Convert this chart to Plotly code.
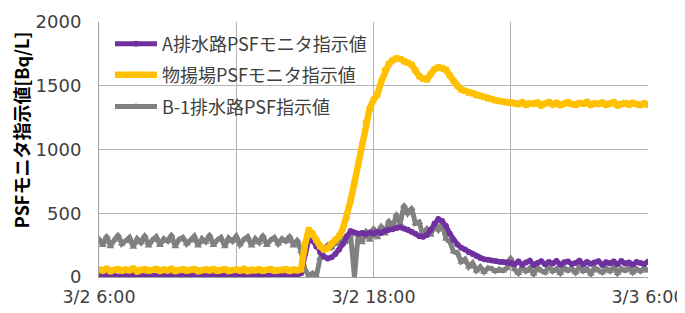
import pandas as pd
import plotly.graph_objects as go

# ---- data (10-minute samples from 3/2 6:00 to 3/3 6:00) ----
start_time = "2011-03-02 06:00"

series_a_name = "A排水路PSFモニタ指示値"
series_a = (
    [15, 5, 20, 8, 12, 2, 18, 10, 6, 22, 9, 14, 4, 17, 11, 7, 20, 12,
     3, 16, 10, 21, 6, 13, 9, 18, 4, 15, 11, 8, 19, 12, 5, 16, 10, 22,
     7, 14, 9, 18, 3, 15, 12, 6, 20, 10, 13, 8, 17, 11, 5, 16, 12]
    + [30, 180, 290, 285, 240, 195, 160, 145, 155, 180, 215, 260, 320,
       360, 350, 340, 345, 335, 350, 340, 355, 345, 360, 370, 375, 385,
       390, 380, 370, 355, 340, 320, 315, 330, 370, 420, 455, 440, 400,
       340, 290, 255, 230, 215, 195, 180, 165, 150, 140, 135, 130, 125,
       120, 118, 115, 112]
    + [100, 122, 96, 114, 128, 94, 110, 124, 100, 117, 106, 126, 96,
       115, 122, 102, 110, 128, 98, 118, 104, 114, 124, 95, 116, 108,
       122, 100, 125, 106, 114, 96, 118, 110, 102, 120]
)

series_b_name = "物揚場PSFモニタ指示値"
series_b = (
    [60, 50, 65, 45, 55, 62, 48, 58, 52, 66, 44, 57, 61, 49, 55, 63,
     47, 58, 52, 64, 46, 56, 60, 50, 57, 62, 45, 54, 59, 51, 63, 48,
     56, 61, 47, 55, 58, 50, 64, 46, 57, 52, 60, 49, 55, 62, 48, 56,
     53, 61, 47, 58, 52]
    + [60, 250, 370, 340, 290, 240, 215, 225, 260, 290, 320, 380, 470,
       600, 740, 880, 1040, 1210, 1320, 1390, 1430, 1530, 1620, 1670,
       1700, 1715, 1710, 1690, 1680, 1665, 1620, 1575, 1555, 1550, 1590,
       1630, 1645, 1640, 1625, 1580, 1535, 1500, 1470, 1460, 1445, 1440,
       1425, 1420, 1410, 1400, 1395, 1385, 1380, 1375, 1370, 1372]
    + [1365, 1355, 1370, 1350, 1362, 1358, 1368, 1345, 1360, 1372, 1352,
       1366, 1348, 1361, 1370, 1355, 1350, 1365, 1358, 1372, 1349, 1362,
       1356, 1368, 1350, 1360, 1371, 1346, 1358, 1364, 1352, 1366, 1355,
       1348, 1362, 1350]
)

series_c_name = "B-1排水路PSF指示値"
series_c = (
    [300, 250, 320, 240, 290, 330, 260, 280, 310, 235, 300, 270, 325,
     245, 290, 315, 250, 300, 280, 330, 240, 295, 310, 260, 285, 320,
     245, 300, 275, 330, 250, 290, 310, 240, 305, 280, 320, 255, 295,
     315, 245, 300, 270, 325, 250, 290, 310, 260, 300, 280, 320, 245, 290]
    + [200, 60, 10, 30, 5, 150, 220, 250, 230, 270, 260, 300, 280,
       330, 0, 340, 270, 360, 290, 380, 310, 400, 340, 440, 380, 490,
       420, 560, 500, 540, 420, 430, 320, 380, 330, 410, 370, 420, 300,
       280, 200, 190, 120, 140, 80, 110, 50, 80, 40, 70, 65, 45, 60, 50,
       70, 150]
    + [60, 30, 80, 45, 70, 25, 75, 50, 35, 85, 45, 65, 30, 75, 50, 70,
       35, 80, 45, 65, 25, 75, 50, 35, 70, 45, 80, 30, 65, 50, 75, 35,
       65, 45, 70, 50]
)

x_tick_values = ["2011-03-02 06:00", "2011-03-02 12:00", "2011-03-02 18:00",
                 "2011-03-03 00:00", "2011-03-03 06:00"]
x_tick_labels = ["3/2 6:00", "", "3/2 18:00", "", "3/3 6:00"]
y_title = "PSFモニタ指示値[Bq/L]"


def times(values):
    return pd.date_range(start_time, periods=len(values), freq="10min")


FONT = "Noto Sans CJK JP"
TICK_FONT = "DejaVu Sans"
fig = go.Figure()

# drawing order: gray, purple, yellow; each in its own legend box
fig.add_trace(go.Scatter(
    x=times(series_c), y=series_c, name=series_c_name, mode="lines+markers",
    line=dict(color="#808080", width=5),
    marker=dict(symbol="triangle-up", size=7, color="#808080"),
    legend="legend3"))
fig.add_trace(go.Scatter(
    x=times(series_a), y=series_a, name=series_a_name, mode="lines+markers",
    line=dict(color="#7030A0", width=5),
    marker=dict(symbol="circle", size=6, color="#7030A0"),
    legend="legend"))
fig.add_trace(go.Scatter(
    x=times(series_b), y=series_b, name=series_b_name, mode="lines+markers",
    line=dict(color="#FFC000", width=6.5),
    marker=dict(symbol="square", size=6, color="#FFC000"),
    legend="legend2"))

legend_common = dict(
    x=0.02, xanchor="left", yanchor="middle",
    bgcolor="rgba(0,0,0,0)", font=dict(family=FONT, size=18, color="#404040"),
    itemwidth=42,
)

# page is drawn with an 8px body margin, so the figure is 8px smaller
fig.update_layout(
    width=677, height=305,
    margin=dict(l=91, r=37, t=14, b=36),
    paper_bgcolor="white", plot_bgcolor="white",
    font=dict(family=FONT, color="#404040", size=18),
    showlegend=True,
    legend=dict(y=0.914, **legend_common),
    legend2=dict(y=0.792, **legend_common),
    legend3=dict(y=0.667, **legend_common),
    annotations=[dict(
        text="<b>" + y_title + "</b>", textangle=-90,
        xref="paper", yref="paper", x=-0.142, y=0.576,
        xanchor="center", yanchor="middle", showarrow=False,
        font=dict(family=FONT, size=18, color="black"),
    )],
)
fig.update_xaxes(
    type="date", automargin=False,
    range=["2011-03-02 06:00", "2011-03-03 06:00"],
    tickvals=x_tick_values, ticktext=x_tick_labels,
    showgrid=True, gridcolor="#b4b4b4", gridwidth=1,
    showline=True, linecolor="#a0a0a0", mirror=False,
    ticks="outside", ticklen=4, tickcolor="rgba(0,0,0,0)",
    ticklabeloverflow="allow",
    tickfont=dict(family=TICK_FONT, size=17.5, color="#404040"),
)
fig.update_yaxes(
    automargin=False,
    range=[0, 2000], dtick=500,
    showgrid=True, gridcolor="#b4b4b4", gridwidth=1,
    showline=True, linecolor="#a0a0a0", zeroline=False,
    ticks="outside", ticklen=13, tickcolor="rgba(0,0,0,0)",
    tickfont=dict(family=TICK_FONT, size=18, color="#404040"),
)

fig.write_html("out.html")
